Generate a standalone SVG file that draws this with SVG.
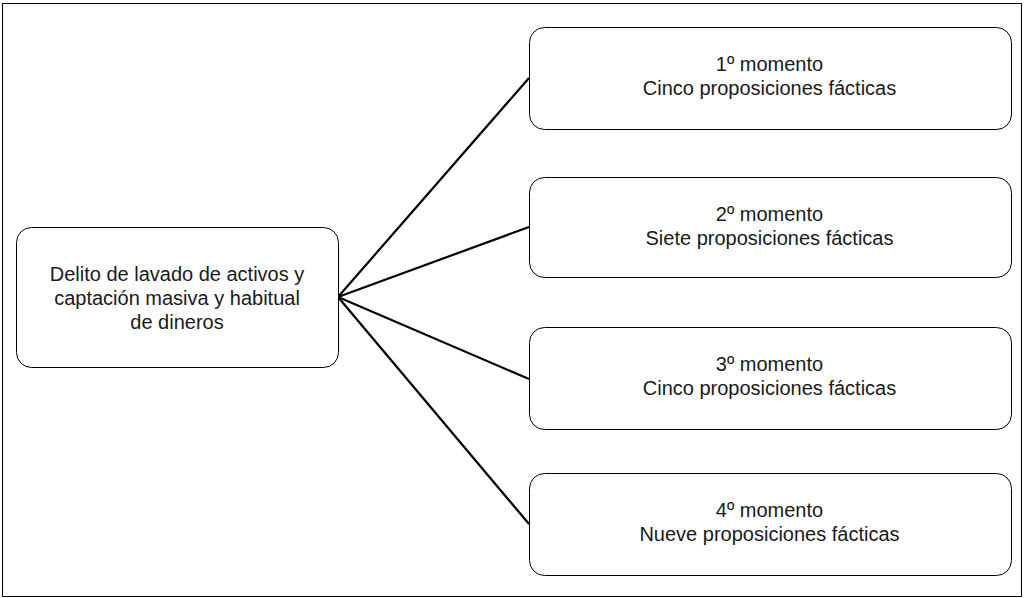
<svg xmlns="http://www.w3.org/2000/svg" width="1024" height="598" viewBox="0 0 1024 598">
<style>
.frame{fill:#fff;stroke:#000;stroke-width:1}
.node{fill:#fff;stroke:#000;stroke-width:1}
.edge{stroke:#000;stroke-width:2.2;fill:none}
text{font-family:"Liberation Sans",Arial,sans-serif;font-size:20px;fill:#1a1a1a;text-anchor:middle}
</style>
<rect class="frame" x="2.5" y="3.5" width="1019" height="593"/>
<g id="connectors">
<line class="edge" x1="338" y1="297" x2="529" y2="78"/>
<line class="edge" x1="338" y1="297" x2="529" y2="227"/>
<line class="edge" x1="338" y1="297" x2="529" y2="379"/>
<line class="edge" x1="338" y1="297" x2="529" y2="524"/>
</g>
<g id="root">
<rect class="node" x="16.5" y="227.5" width="322" height="140" rx="15"/>
<text x="177" y="281">Delito de lavado de activos y</text>
<text x="177" y="305">captación masiva y habitual</text>
<text x="177" y="329">de dineros</text>
</g>
<g id="m1">
<rect class="node" x="529.5" y="27.5" width="482" height="102" rx="15"/>
<text x="769.5" y="71">1º momento</text>
<text x="769.5" y="95">Cinco proposiciones fácticas</text>
</g>
<g id="m2">
<rect class="node" x="529.5" y="177.5" width="482" height="100" rx="15"/>
<text x="769.5" y="221">2º momento</text>
<text x="769.5" y="245">Siete proposiciones fácticas</text>
</g>
<g id="m3">
<rect class="node" x="529.5" y="327.5" width="482" height="102" rx="15"/>
<text x="769.5" y="371">3º momento</text>
<text x="769.5" y="395">Cinco proposiciones fácticas</text>
</g>
<g id="m4">
<rect class="node" x="529.5" y="473.5" width="482" height="102" rx="15"/>
<text x="769.5" y="517">4º momento</text>
<text x="769.5" y="541">Nueve proposiciones fácticas</text>
</g>
</svg>
